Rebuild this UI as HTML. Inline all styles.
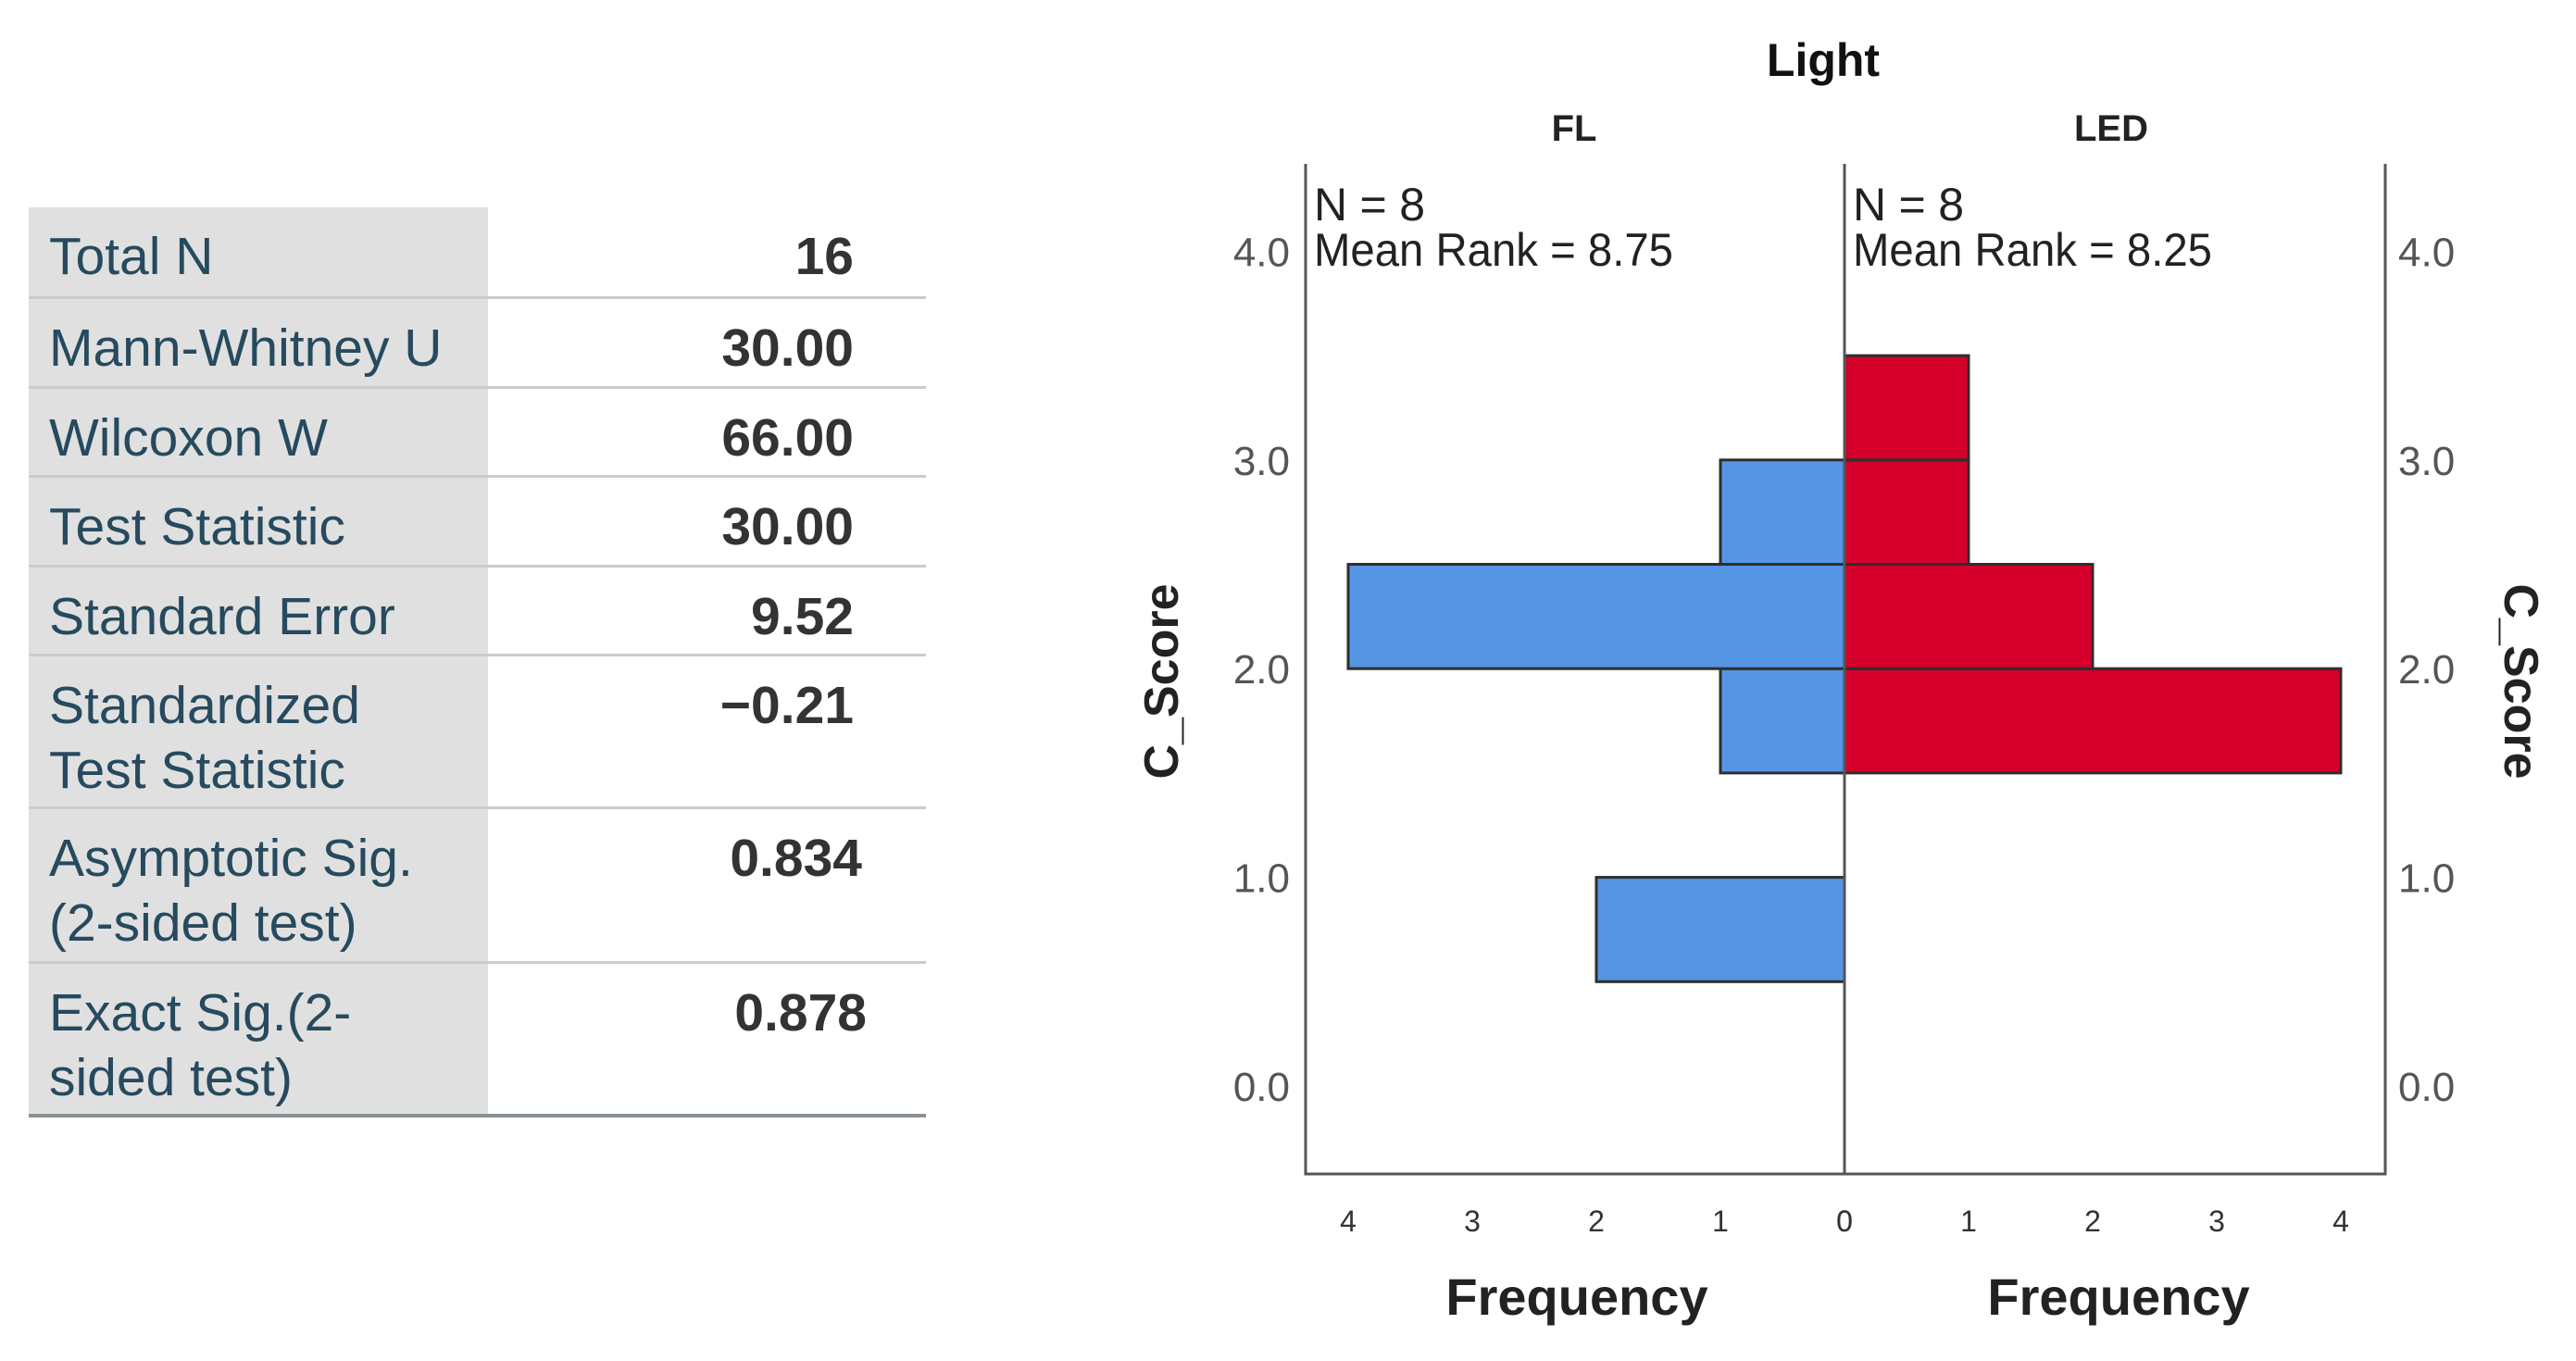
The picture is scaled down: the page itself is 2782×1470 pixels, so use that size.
<!DOCTYPE html>
<html><head><meta charset="utf-8"><style>
body{margin:0;width:2782px;height:1470px;background:#fff;overflow:hidden;position:relative;font-family:"Liberation Sans",Arial,sans-serif}
#tbl{position:absolute;left:31px;top:224px;width:969px}
.row{position:relative;border-bottom:3px solid #c8cccf;box-sizing:border-box}
.row .lab{position:absolute;left:0;top:0;bottom:0;width:496px;background:#e0e0e0;padding:18px 0 0 22px;box-sizing:border-box;color:#264a5e;font-size:57px;line-height:70px}
.row .val{position:absolute;right:78px;top:18px;color:#333;font-weight:bold;font-size:57px;line-height:70px}
.row.last{border-bottom:4px solid #8a9196}
</style></head><body>
<div id="tbl">
<div class="row" style="height:99px"><div class="lab">Total N</div><div class="val">16</div></div>
<div class="row" style="height:97px"><div class="lab">Mann-Whitney U</div><div class="val">30.00</div></div>
<div class="row" style="height:96px"><div class="lab">Wilcoxon W</div><div class="val">66.00</div></div>
<div class="row" style="height:97px"><div class="lab">Test Statistic</div><div class="val">30.00</div></div>
<div class="row" style="height:96px"><div class="lab">Standard Error</div><div class="val">9.52</div></div>
<div class="row" style="height:165px"><div class="lab">Standardized<br>Test Statistic</div><div class="val">−0.21</div></div>
<div class="row" style="height:167px"><div class="lab">Asymptotic Sig.<br>(2-sided test)</div><div class="val" style="right:69px">0.834</div></div>
<div class="row last" style="height:166px"><div class="lab">Exact Sig.(2-<br>sided test)</div><div class="val" style="right:64px">0.878</div></div>
</div>
<svg id="chart" width="2782" height="1470" style="position:absolute;left:0;top:0"></svg>
<script>
const binStarts=[0.5,1.0,1.5,2.0,2.5,3.0];
const flCounts=[2,0,1,4,1,0];
const ledCounts=[0,0,4,2,1,1];
const yTicks=[0,1,2,3,4];
const yTickLabels=["0.0","1.0","2.0","3.0","4.0"];
const xTicks=[0,1,2,3,4];
const binWidth=0.5;
const NS="http://www.w3.org/2000/svg";
const svgEl=document.getElementById('chart');
const cx=1992, unitX=134, y0=1173, unitY=225.4, plotTop=177, plotBottom=1268, plotLeft=1410, plotRight=2576;
const yS=v=>y0-v*unitY;
const xL=v=>cx-v*unitX, xR=v=>cx+v*unitX;
function mk(tag,attrs,txt){const e=document.createElementNS(NS,tag);for(const k in attrs)e.setAttribute(k,attrs[k]);if(txt!==undefined)e.textContent=txt;svgEl.appendChild(e);return e;}
binStarts.forEach((b,i)=>{
 if(flCounts[i]>0){const r=mk('rect',{x:xL(flCounts[i]),y:yS(b+binWidth),width:flCounts[i]*unitX,height:binWidth*unitY,fill:'#5595e4',stroke:'#2e2e2e','stroke-width':3});
 
 }
 if(ledCounts[i]>0){const r=mk('rect',{x:cx,y:yS(b+binWidth),width:ledCounts[i]*unitX,height:binWidth*unitY,fill:'#d4002b',stroke:'#2e2e2e','stroke-width':3});
 
 }
});
const ax=mk('path',{d:`M${plotLeft} ${plotTop}V${plotBottom}H${plotRight}V${plotTop}M${cx} ${plotTop}V${plotBottom}`,fill:'none',stroke:'#555','stroke-width':3});


yTicks.forEach((v,i)=>{
 const a=mk('text',{x:1393,y:yS(v)+16,'text-anchor':'end','font-size':44,fill:'#555'},yTickLabels[i]);
 
 
 const b=mk('text',{x:2590,y:yS(v)+16,'font-size':44,fill:'#555'},yTickLabels[i]);
 
 
});
xTicks.forEach(v=>{
 const a=mk('text',{x:xL(v),y:1330,'text-anchor':'middle','font-size':32,fill:'#333'},String(v));
 
 
 const b=mk('text',{x:xR(v),y:1330,'text-anchor':'middle','font-size':32,fill:'#333'},String(v));
 
 
});
function label(name,attrs,txt){const e=mk('text',attrs,txt);return e;}
label('panel-title-light',{x:1969,y:82,'text-anchor':'middle','font-size':50,'font-weight':'bold',fill:'#111'},'Light');
label('panel-label-fl',{x:1700,y:152,'text-anchor':'middle','font-size':40,'font-weight':'bold',fill:'#222'},'FL');
label('panel-label-led',{x:2280,y:152,'text-anchor':'middle','font-size':40,'font-weight':'bold',fill:'#222'},'LED');
label('fl-n',{x:1419,y:238,'font-size':50,fill:'#222',textLength:120},'N = 8');
label('fl-mean-rank',{x:1419,y:287,'font-size':50,fill:'#222',textLength:388,lengthAdjust:'spacingAndGlyphs'},'Mean Rank = 8.75');
label('led-n',{x:2001,y:238,'font-size':50,fill:'#222',textLength:120},'N = 8');
label('led-mean-rank',{x:2001,y:287,'font-size':50,fill:'#222',textLength:388,lengthAdjust:'spacingAndGlyphs'},'Mean Rank = 8.25');
label('x-axis-title-fl',{x:1703,y:1420,'text-anchor':'middle','font-size':56,'font-weight':'bold',fill:'#222'},'Frequency');
label('x-axis-title-led',{x:2288,y:1420,'text-anchor':'middle','font-size':56,'font-weight':'bold',fill:'#222'},'Frequency');
label('y-axis-title-left',{x:1254,y:736,'text-anchor':'middle','font-size':52,'font-weight':'bold',fill:'#222',transform:'rotate(-90 1254 736) translate(0 18)'},'C_Score');
label('y-axis-title-right',{x:2723,y:736,'text-anchor':'middle','font-size':52,'font-weight':'bold',fill:'#222',transform:'rotate(90 2723 736) translate(0 18)'},'C_Score');
</script>
</body></html>
